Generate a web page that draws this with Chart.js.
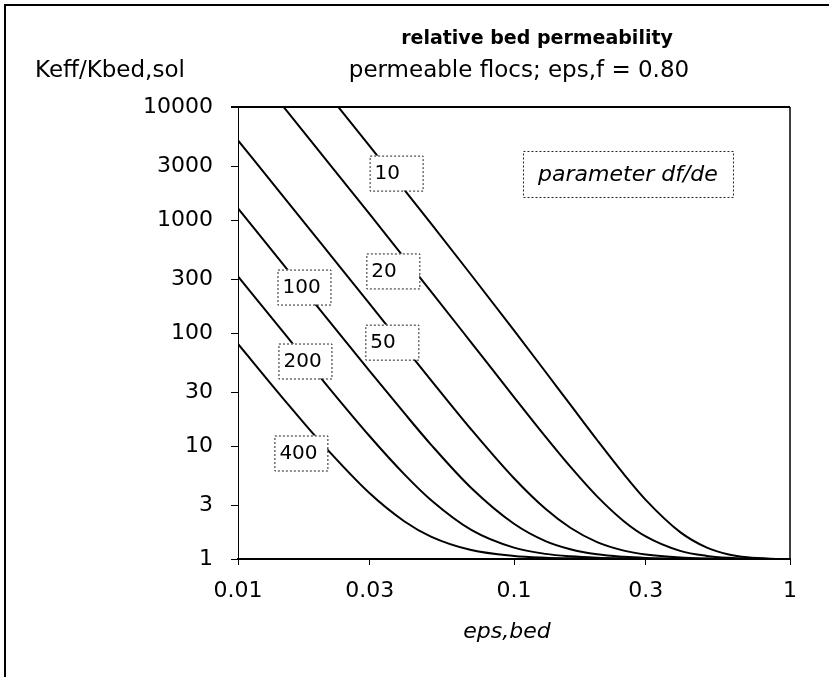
<!DOCTYPE html>
<html>
<head>
<meta charset="utf-8">
<script src="https://cdn.jsdelivr.net/npm/chart.js@4"></script>
<style>
html, body { margin: 0; padding: 0; background: #fff; }
#wrap { width: 829px; height: 677px; }
</style>
</head>
<body>
<div id="wrap"><canvas id="perm" width="829" height="677"></canvas></div>
<script>
// eps,bed values the curves were read at
const epsBed = [0.01, 0.015, 0.02, 0.03, 0.04, 0.05, 0.07, 0.1, 0.13, 0.16, 0.2, 0.25, 0.3, 0.4, 0.5, 0.6, 0.7, 0.85, 1];

// Keff/Kbed,sol for each df/de
const k10 = [126000, 37100, 15500, 4500, 1860, 932, 326, 105.5, 45.4, 23.2, 11.3, 5.64, 3.34, 1.73, 1.26, 1.096, 1.034, 1.005, 1];
const k20 = [31600, 9270, 3870, 1125, 465, 234, 82.3, 27.1, 12.1, 6.56, 3.58, 2.16, 1.585, 1.18, 1.065, 1.024, 1.008, 1.001, 1];
const k50 = [5060, 1484, 620, 181, 75.3, 38.3, 14.0, 5.18, 2.78, 1.89, 1.41, 1.186, 1.094, 1.029, 1.01, 1.004, 1.001, 1, 1];
const k100 = [1265, 372, 156, 46.0, 19.6, 10.3, 4.25, 2.05, 1.44, 1.22, 1.10, 1.046, 1.023, 1.007, 1.003, 1.001, 1, 1, 1];
const k200 = [317, 93.7, 39.7, 12.2, 5.64, 3.33, 1.81, 1.26, 1.11, 1.056, 1.026, 1.012, 1.006, 1.002, 1, 1, 1, 1, 1];
const k400 = [80.0, 24.2, 10.7, 3.81, 2.16, 1.58, 1.20, 1.065, 1.028, 1.014, 1.006, 1.003, 1.001, 1, 1, 1, 1, 1, 1];

const curveNames = ['10', '20', '50', '100', '200', '400'];
const curveValues = [k10, k20, k50, k100, k200, k400];

// where the little label boxes sit (data coordinates)
const labelEps = [0.0374, 0.0364, 0.0361, 0.01734, 0.01748, 0.0169];
const labelK = [2600, 354, 83, 255, 56.5, 8.67];

const xTicks = [0.01, 0.03, 0.1, 0.3, 1];
const xTickLabels = ['0.01', '0.03', '0.1', '0.3', '1'];
const yTicks = [1, 3, 10, 30, 100, 300, 1000, 3000, 10000];
const yTickLabels = ['1', '3', '10', '30', '100', '300', '1000', '3000', '10000'];

const FONT = '"DejaVu Sans", "Liberation Sans", sans-serif';

const datasets = curveValues.map((vals, i) => ({
	label: curveNames[i],
	data: epsBed.map((e, j) => ({ x: e, y: vals[j] })),
	borderColor: '#000',
	borderWidth: 2,
	pointRadius: 0,
	cubicInterpolationMode: 'monotone',
	fill: false
}));

const decorations = {
	id: 'decorations',
	beforeDraw(chart) {
		const ctx = chart.ctx;
		ctx.save();
		ctx.fillStyle = '#fff';
		ctx.fillRect(0, 0, chart.width, chart.height);
		ctx.restore();
	},
	afterDraw(chart) {
		const ctx = chart.ctx;
		const a = chart.chartArea;
		const xs = chart.scales.x;
		const ys = chart.scales.y;
		ctx.save();

		// outer frame (only top and left show in the picture)
		ctx.strokeStyle = '#000';
		ctx.lineWidth = 2;
		ctx.beginPath();
		ctx.moveTo(5, chart.height);
		ctx.lineTo(5, 5);
		ctx.lineTo(chart.width, 5);
		ctx.stroke();

		// top and right edge of plot box
		ctx.lineWidth = 2;
		ctx.beginPath();
		ctx.moveTo(a.left - 7, a.top);
		ctx.lineTo(a.right, a.top);
		ctx.stroke();
		ctx.lineWidth = 1.5;
		ctx.beginPath();
		ctx.moveTo(a.right, a.top);
		ctx.lineTo(a.right, a.bottom);
		ctx.stroke();

		// titles
		ctx.fillStyle = '#000';
		ctx.textAlign = 'center';
		ctx.textBaseline = 'alphabetic';
		ctx.font = 'bold 19px ' + FONT;
		ctx.fillText('relative bed permeability', 537, 44);
		ctx.font = '23px ' + FONT;
		ctx.fillText('permeable flocs; eps,f = 0.80', 519, 77);
		ctx.textAlign = 'left';
		ctx.fillText('Keff/Kbed,sol', 35, 77);
		ctx.textAlign = 'center';
		ctx.textBaseline = 'middle';
		ctx.font = 'italic 22px ' + FONT;
		ctx.fillText('eps,bed', 507, 632);

		// curve label boxes
		ctx.font = '20px ' + FONT;
		curveNames.forEach((name, i) => {
			const cx = xs.getPixelForValue(labelEps[i]);
			const cy = ys.getPixelForValue(labelK[i]);
			const w = 53, h = 35;
			ctx.fillStyle = '#fff';
			ctx.fillRect(cx - w / 2, cy - h / 2, w, h);
			ctx.setLineDash([2, 2]);
			ctx.lineWidth = 1;
			ctx.strokeStyle = '#222';
			ctx.strokeRect(cx - w / 2 + 0.5, cy - h / 2 + 0.5, w, h);
			ctx.setLineDash([]);
			ctx.fillStyle = '#000';
			ctx.textAlign = 'left';
			ctx.fillText(name, cx - w / 2 + 5, cy + 1);
		});

		// parameter box
		const px = xs.getPixelForValue(0.2588);
		const py = ys.getPixelForValue(2554);
		ctx.fillStyle = '#fff';
		ctx.fillRect(px - 105, py - 23, 210, 46);
		ctx.setLineDash([2, 2]);
		ctx.strokeStyle = '#222';
		ctx.strokeRect(px - 105 + 0.5, py - 23 + 0.5, 210, 46);
		ctx.setLineDash([]);
		ctx.fillStyle = '#000';
		ctx.textAlign = 'center';
		ctx.font = 'italic 22px ' + FONT;
		ctx.fillText('parameter df/de', px, py + 1);

		ctx.restore();
	}
};

new Chart(document.getElementById('perm').getContext('2d'), {
	type: 'line',
	data: { datasets: datasets },
	options: {
		responsive: false,
		animation: false,
		devicePixelRatio: 1,
		layout: { padding: { top: 107, right: 39, left: 0, bottom: 0 } },
		plugins: {
			legend: { display: false },
			tooltip: { enabled: false },
			title: { display: false }
		},
		scales: {
			x: {
				type: 'logarithmic',
				min: 0.01,
				max: 1,
				afterBuildTicks: (s) => { s.ticks = xTicks.map((v) => ({ value: v })); },
				afterFit: (s) => { s.height = 118; },
				ticks: {
					callback: (v, i) => xTickLabels[i],
					font: { family: FONT, size: 22 },
					color: '#000',
					padding: 13,
					maxRotation: 0,
					autoSkip: false
				},
				grid: { drawOnChartArea: false, drawTicks: true, tickLength: 6, color: '#000' },
				border: { display: true, color: '#000', width: 2 }
			},
			y: {
				type: 'logarithmic',
				min: 1,
				max: 10000,
				afterBuildTicks: (s) => { s.ticks = yTicks.map((v) => ({ value: v })); },
				afterFit: (s) => { s.width = 238; },
				ticks: {
					callback: (v, i) => yTickLabels[i],
					font: { family: FONT, size: 22 },
					color: '#000',
					padding: 18,
					autoSkip: false
				},
				grid: { drawOnChartArea: false, drawTicks: true, tickLength: 7, color: '#000' },
				border: { display: true, color: '#000', width: 1 }
			}
		}
	},
	plugins: [decorations]
});
</script>
</body>
</html>
